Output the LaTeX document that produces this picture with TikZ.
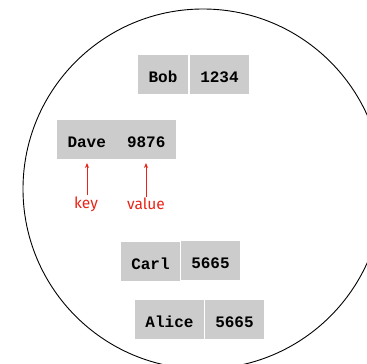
\documentclass[tikz,border=0pt]{standalone}
\usepackage{fontspec}
\setmonofont{Liberation Mono}
\newfontfamily\labelfont{Fira Sans}
\usetikzlibrary{arrows.meta}
\definecolor{boxgray}{RGB}{204,204,204}
\definecolor{labelred}{RGB}{232,36,24}
\begin{document}
\begin{tikzpicture}[x=1pt,y=-1pt,
  cell/.style={fill=boxgray, inner sep=0pt, minimum height=39pt,
    font=\ttfamily\bfseries\fontsize{16}{18}\selectfont, text height=16pt, text depth=1pt},
  redlabel/.style={text=labelred, font=\labelfont\fontsize{15.5}{17}\selectfont, inner sep=1pt},
  redarrow/.style={draw=labelred, line width=1pt, -{Stealth[length=5pt,width=4pt]}}]
\useasboundingbox (0,0) rectangle (367,364);
\clip (0,0) rectangle (367,364);
\draw[line width=0.9pt] (203,189) circle[radius=180];
% Bob
\node[cell, minimum width=50pt] (bobk) at (163,74.5) {Bob};
\node[cell, minimum width=59pt] (bobv) at (219.5,74.5) {1234};
% Dave
\node[cell, minimum width=59.5pt] (davek) at (86.75,139.5) {Dave};
\node[cell, minimum width=59.5pt] (davev) at (146.25,139.5) {9876};
% Carl
\node[cell, minimum width=59pt] (carlk) at (150.5,261.5) {Carl};
\node[cell, minimum width=59pt] (carlv) at (210.5,260.5) {5665};
% Alice
\node[cell, minimum width=69pt] (alicek) at (169.5,319.5) {Alice};
\node[cell, minimum width=59pt] (alicev) at (234.5,319.5) {5665};
% labels
\node[redlabel] (key) at (86,204) {key};
\node[redlabel] (value) at (146,204) {value};
\draw[redarrow, shorten >=4pt] (key.north -| 87,0) -- (87,159);
\draw[redarrow, shorten >=4pt] (value.north -| 146,0) -- (146,159);
\end{tikzpicture}
\end{document}
